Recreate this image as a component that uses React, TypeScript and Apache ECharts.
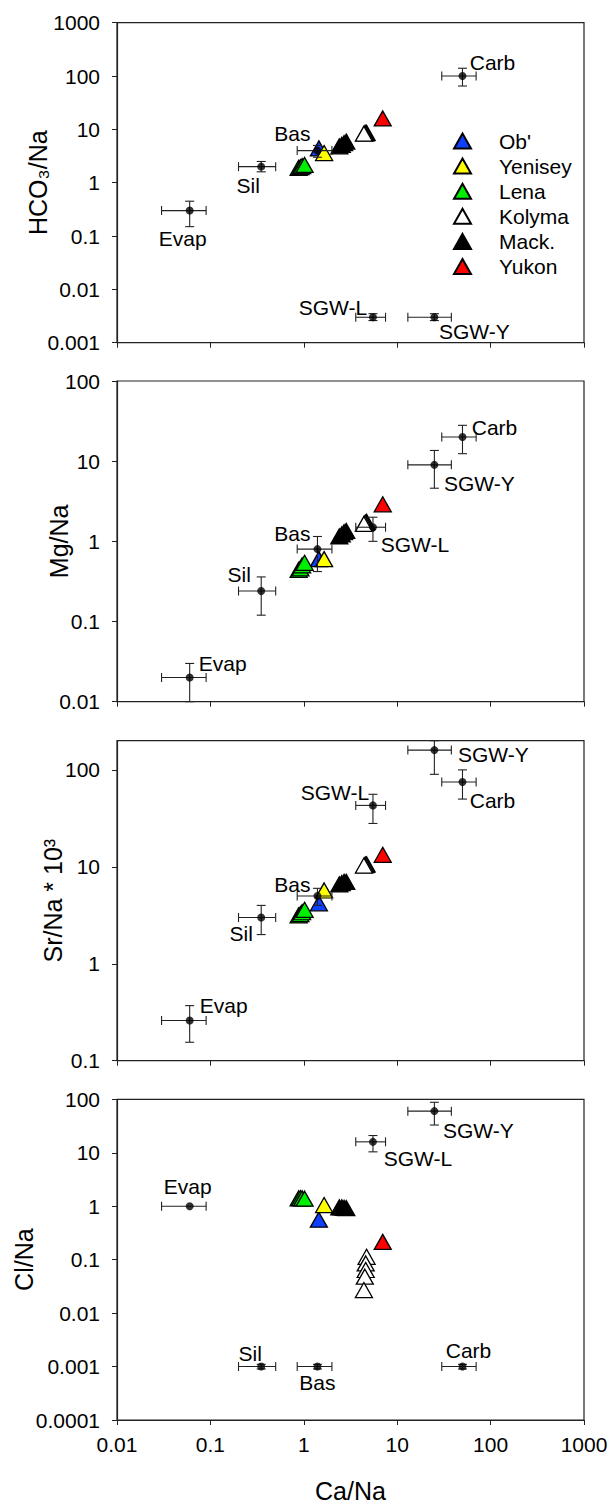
import React, { useEffect, useRef } from "react";
import * as echarts from "echarts";

// ---------- DATA ----------
const rivers = ["Ob'", "Yenisey", "Lena", "Kolyma", "Mack.", "Yukon"];
const riverColors = ["#1040ff", "#ffff00", "#00ee00", "#ffffff", "#000000", "#ff0000"];

// river samples: Ca/Na and the four ratios (one entry per sample)
const obCaNa = [1.45];
const obHco3 = [4.4];
const obMg = [0.6];
const obSr = [4.2];
const obCl = [0.56];

const yenCaNa = [1.65];
const yenHco3 = [3.6];
const yenMg = [0.6];
const yenSr = [5.7];
const yenCl = [1.05];

const lenaCaNa = [0.88, 0.92, 0.96, 1.02];
const lenaHco3 = [1.9, 1.95, 2.05, 2.15];
const lenaMg = [0.44, 0.46, 0.5, 0.54];
const lenaSr = [3.15, 3.25, 3.4, 3.6];
const lenaCl = [1.4, 1.42, 1.4, 1.38];

const kolCaNa = [4.7, 4.6, 4.6, 4.5, 4.4];
const kolHco3 = [8.6, 8.5, 8.5, 8.4, 8.3];
const kolMg = [1.75, 1.7, 1.7, 1.68, 1.65];
const kolSr = [10.6, 10.5, 10.5, 10.4, 10.3];
const kolCl = [0.113, 0.085, 0.064, 0.048, 0.027];

const mackCaNa = [2.4, 2.55, 2.7, 2.85];
const mackHco3 = [4.8, 5.1, 5.5, 5.9];
const mackMg = [1.15, 1.22, 1.3, 1.35];
const mackSr = [6.6, 6.8, 7.0, 7.0];
const mackCl = [0.95, 0.95, 0.93, 0.92];

const yukCaNa = [7.0];
const yukHco3 = [16];
const yukMg = [2.9];
const yukSr = [13.3];
const yukCl = [0.215];

// end-members
const endMembers = ["Evap", "Sil", "Bas", "Carb", "SGW-L", "SGW-Y"];
const emCaNa = [0.06, 0.35, 1.4, 50, 5.5, 25];
const emCaNaLow = [0.03, 0.2, 0.85, 30, 3.6, 13];
const emCaNaHigh = [0.09, 0.5, 2.0, 70, 7.5, 38];

const emHco3 = [0.3, 2, 4, 100, 0.003, 0.003];
const emHco3Low = [0.15, 1.6, 3, 65, 0.0026, 0.0026];
const emHco3High = [0.45, 2.5, 5, 140, 0.0035, 0.0035];

const emMg = [0.02, 0.24, 0.8, 20, 1.5, 9];
const emMgLow = [0.01, 0.12, 0.42, 12.4, 1.0, 4.6];
const emMgHigh = [0.03, 0.36, 1.15, 28, 2.0, 13.6];

const emSr = [0.26, 3, 5, 75, 43, 160];
const emSrLow = [0.155, 2, 4, 50, 28, 90];
const emSrHigh = [0.37, 4, 6, 100, 56, 200];

const emCl = [1, 0.001, 0.001, 0.001, 16, 60];
const emClLow = [1, 0.0009, 0.0009, 0.0009, 10.4, 33];
const emClHigh = [1, 0.0011, 0.0011, 0.0011, 21, 88];

// axes
const yNames = ["HCO\u2083/Na", "Mg/Na", "Sr/Na * 10\u00B3", "Cl/Na"];
const yMin = [0.001, 0.01, 0.1, 0.0001];
const yMax = [1000, 100, 200, 100];
const xName = "Ca/Na";

// ---------- LAYOUT / STYLE ----------
const FONT = "'Liberation Sans', Arial, Helvetica, sans-serif";
const gridBoxes = [
  { top: 22.7, height: 320 },
  { top: 381, height: 320.7 },
  { top: 740.7, height: 320 },
  { top: 1099.3, height: 320.7 },
];
const yNameGaps = [67, 46, 52, 81];
const EM_SIZE = 8;
// label offsets (px) relative to each end-member point, per panel
const labelOffsets = [
  [[-7, 28], [-13, 19], [-25, -17], [30, -14], [-40, -10], [40, 14]],
  [[33, -14], [-22, -17], [-25, -16], [32, -10], [42, 17], [45, 19]],
  [[34, -15], [-20, 16], [-25, -12], [30, 19], [-38, -13], [59, 4]],
  [[-2, -20], [-11, -13], [0, 16], [6, -16], [45, 17], [44, 19]],
];

export default function App() {
  const ref = useRef<HTMLDivElement>(null);

  useEffect(() => {
    if (!ref.current) return;
    const chart = echarts.init(ref.current, undefined, { renderer: "svg" });

    const riverX = [obCaNa, yenCaNa, lenaCaNa, kolCaNa, mackCaNa, yukCaNa];
    const riverY = [
      [obHco3, yenHco3, lenaHco3, kolHco3, mackHco3, yukHco3],
      [obMg, yenMg, lenaMg, kolMg, mackMg, yukMg],
      [obSr, yenSr, lenaSr, kolSr, mackSr, yukSr],
      [obCl, yenCl, lenaCl, kolCl, mackCl, yukCl],
    ];
    const emY = [emHco3, emMg, emSr, emCl];
    const emYLow = [emHco3Low, emMgLow, emSrLow, emClLow];
    const emYHigh = [emHco3High, emMgHigh, emSrHigh, emClHigh];

    const fmt = (v: number) => String(+Number(v).toPrecision(6));
    const axisColor = "#222";

    const grid = gridBoxes.map((g) => ({
      left: 117,
      width: 467,
      top: g.top,
      height: g.height,
      show: true,
      borderColor: axisColor,
      borderWidth: 1.2,
      backgroundColor: "transparent",
    }));

    const xAxis = gridBoxes.map((_, i) => ({
      type: "log",
      logBase: 10,
      gridIndex: i,
      min: 0.01,
      max: 1000,
      name: i === 3 ? xName : "",
      nameLocation: "middle",
      nameGap: 58,
      nameMoveOverlap: false,
      nameTextStyle: { fontSize: 25, fontFamily: FONT, color: "#000" },
      axisLine: { show: true, lineStyle: { color: axisColor, width: 1.2 } },
      axisTick: { show: true, inside: false, length: 5, lineStyle: { color: axisColor } },
      minorTick: { show: false },
      splitLine: { show: false },
      axisLabel: {
        show: i === 3,
        fontSize: 21,
        fontFamily: FONT,
        color: "#000",
        margin: 14,
        formatter: fmt,
      },
    }));

    const yAxis = gridBoxes.map((_, i) => ({
      type: "log",
      logBase: 10,
      gridIndex: i,
      min: yMin[i],
      max: yMax[i],
      name: yNames[i],
      nameLocation: "middle",
      nameGap: yNameGaps[i],
      nameMoveOverlap: false,
      nameRotate: 90,
      nameTextStyle: { fontSize: 25, fontFamily: FONT, color: "#000" },
      axisLine: { show: true, lineStyle: { color: axisColor, width: 1.2 } },
      axisTick: { show: true, inside: false, length: 5, lineStyle: { color: axisColor } },
      minorTick: { show: false },
      splitLine: { show: false },
      axisLabel: {
        fontSize: 21,
        fontFamily: FONT,
        color: "#000",
        margin: 17,
        formatter: fmt,
        showMaxLabel: i === 2 ? false : true,
      },
    }));

    const series: any[] = [];
    for (let p = 0; p < 4; p++) {
      rivers.forEach((name, r) => {
        series.push({
          name,
          type: "scatter",
          xAxisIndex: p,
          yAxisIndex: p,
          symbol: "triangle",
          symbolSize: [17, 15],
          itemStyle: { color: riverColors[r], borderColor: "#000", borderWidth: 1.3, opacity: 1 },
          data: riverX[r].map((x, k) => [x, riverY[p][r][k]]),
          z: 3,
          silent: true,
        });
      });
      series.push({
        type: "custom",
        xAxisIndex: p,
        yAxisIndex: p,
        z: 4,
        silent: true,
        encode: { x: 0, y: 1 },
        data: endMembers.map((_, k) => [
          emCaNa[k],
          emY[p][k],
          emCaNaLow[k],
          emCaNaHigh[k],
          emYLow[p][k],
          emYHigh[p][k],
        ]),
        renderItem: (params: any, api: any) => {
          const x = api.value(0);
          const y = api.value(1);
          const xl = api.value(2);
          const xh = api.value(3);
          const yl = api.value(4);
          const yh = api.value(5);
          const cap = 4.5;
          const style = { stroke: "#222", lineWidth: 1.1, fill: null };
          const children: any[] = [];
          if (xh > xl) {
            const a = api.coord([xl, y]);
            const b = api.coord([xh, y]);
            children.push({ type: "line", shape: { x1: a[0], y1: a[1], x2: b[0], y2: b[1] }, style });
            children.push({ type: "line", shape: { x1: a[0], y1: a[1] - cap, x2: a[0], y2: a[1] + cap }, style });
            children.push({ type: "line", shape: { x1: b[0], y1: b[1] - cap, x2: b[0], y2: b[1] + cap }, style });
          }
          if (yh > yl) {
            const a = api.coord([x, yl]);
            const b = api.coord([x, yh]);
            children.push({ type: "line", shape: { x1: a[0], y1: a[1], x2: b[0], y2: b[1] }, style });
            children.push({ type: "line", shape: { x1: a[0] - cap, y1: a[1], x2: a[0] + cap, y2: a[1] }, style });
            children.push({ type: "line", shape: { x1: b[0] - cap, y1: b[1], x2: b[0] + cap, y2: b[1] }, style });
          }
          return { type: "group", children };
        },
      });
      series.push({
        type: "scatter",
        xAxisIndex: p,
        yAxisIndex: p,
        symbol: "circle",
        symbolSize: EM_SIZE,
        z: 5,
        silent: true,
        itemStyle: { color: "#000" },
        data: endMembers.map((nm, k) => ({
          name: nm,
          value: [emCaNa[k], emY[p][k]],
          label: {
            show: true,
            position: [EM_SIZE / 2 + labelOffsets[p][k][0], EM_SIZE / 2 + labelOffsets[p][k][1]],
            formatter: nm,
            fontSize: 21,
            fontFamily: FONT,
            color: "#000",
            opacity: 1,
            textBorderWidth: 0,
            align: "center",
            verticalAlign: "middle",
          },
        })),
      });
    }

    chart.setOption({
      animation: false,
      backgroundColor: "#fff",
      grid,
      xAxis,
      yAxis,
      legend: {
        data: rivers,
        orient: "vertical",
        left: 448,
        top: 125.5,
        itemWidth: 17,
        itemHeight: 15,
        itemGap: 4.1,
        selectedMode: false,
        textStyle: { fontSize: 21, fontFamily: FONT, color: "#000", padding: [0, 0, 0, 23] },
      },
      series,
    });

    return () => chart.dispose();
  }, []);

  return (
    <div
      ref={ref}
      style={{ position: "absolute", left: 0, top: 0, width: 612, height: 1504, background: "#fff" }}
    />
  );
}
